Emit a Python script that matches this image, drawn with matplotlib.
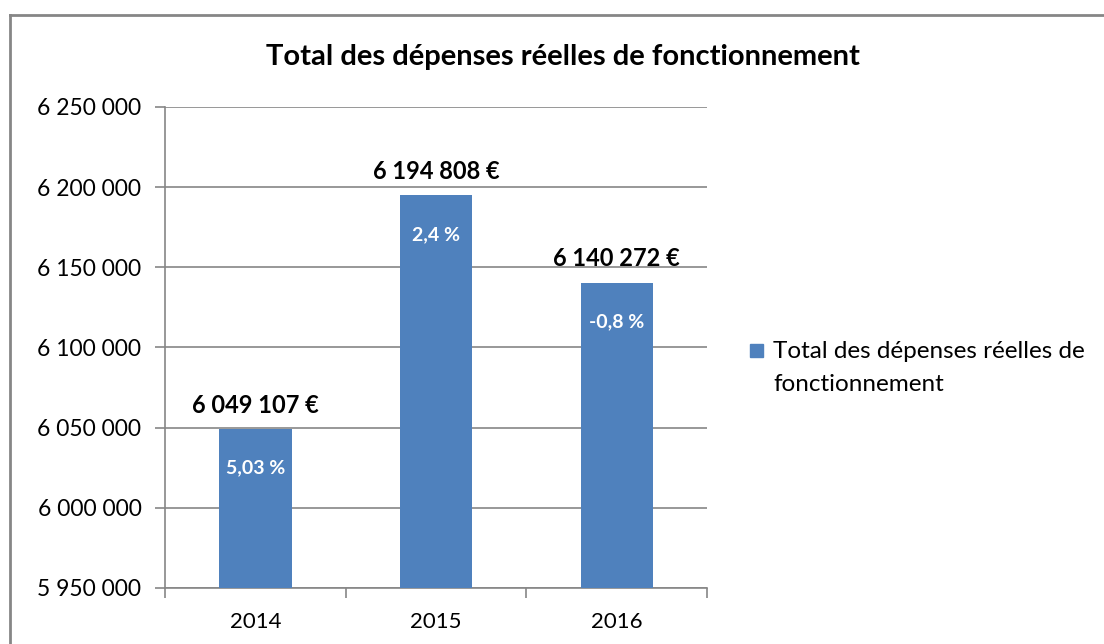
import matplotlib.pyplot as plt
from matplotlib.lines import Line2D
from matplotlib.patches import Rectangle

years = ["2014", "2015", "2016"]
depenses = [6049107, 6194808, 6140272]
value_labels = ["6 049 107 €", "6 194 808 €", "6 140 272 €"]
pct_labels = ["5,03 %", "2,4 %", "-0,8 %"]
yticks = [5950000, 6000000, 6050000, 6100000, 6150000, 6200000, 6250000]
series_name = "Total des dépenses réelles de fonctionnement"
legend_lines = ["Total des dépenses réelles de", "fonctionnement"]

BLUE = "#4F81BD"
GRID = "#868686"

plt.rcParams["font.family"] = ["Lato", "DejaVu Sans"]

fig = plt.figure(figsize=(11.04, 6.44), dpi=100)
ax = fig.add_axes([0.1495, 0.087, 0.491, 0.747])

x = range(len(years))
bars = ax.bar(x, [v - yticks[0] for v in depenses], bottom=yticks[0],
              width=0.4, color=BLUE, zorder=3)

ax.set_ylim(yticks[0], yticks[-1])
ax.set_xlim(-0.5, len(years) - 0.5)
ax.set_yticks(yticks)
ax.set_yticklabels([f"{v:,}".replace(",", " ") for v in yticks], fontsize=16.5)
ax.set_xticks(list(x))
ax.set_xticklabels(years, fontsize=16)
ax.set_xticks([-0.5, 0.5, 1.5, 2.5], minor=True)
ax.tick_params(axis="x", which="major", length=0, pad=17)
ax.tick_params(axis="x", which="minor", length=7, color=GRID, width=1.2)
ax.tick_params(axis="y", length=7, color=GRID, width=1.2, pad=10)
ax.yaxis.grid(True, color=GRID, lw=1.2, zorder=0)

for s in ["top", "right"]:
    ax.spines[s].set_visible(False)
for s in ["left", "bottom"]:
    ax.spines[s].set_color(GRID)
    ax.spines[s].set_linewidth(1.2)

for b, v, lab, pct in zip(bars, depenses, value_labels, pct_labels):
    cx = b.get_x() + b.get_width() / 2
    ax.annotate(lab, (cx, v), xytext=(0, 9), textcoords="offset points",
                ha="center", va="bottom", fontsize=17, fontweight="bold")
    ax.annotate(pct, (cx, v), xytext=(0, -28), textcoords="offset points",
                ha="center", va="center", fontsize=14, fontweight="bold",
                color="white")

fig.text(0.51, 0.911, series_name, ha="center", va="center",
         fontsize=21, fontweight="bold")

# legend: Excel puts the key beside the first line of the wrapped label
fig.add_artist(Rectangle((0.6793, 0.4457), 0.0118, 0.0202, color=BLUE,
                         transform=fig.transFigure))
for i, line in enumerate(legend_lines):
    fig.text(0.7002, 0.4441 - i * 0.0512, line, ha="left", va="baseline",
             fontsize=17.5)

# chart border (only top and left edges fall inside the picture)
fig.add_artist(Line2D([0.0095, 0.0095], [0, 0.977], color=GRID, lw=2,
                      transform=fig.transFigure))
fig.add_artist(Line2D([0.0095, 1], [0.977, 0.977], color=GRID, lw=2,
                      transform=fig.transFigure))

fig.savefig("out.png", dpi=100)
